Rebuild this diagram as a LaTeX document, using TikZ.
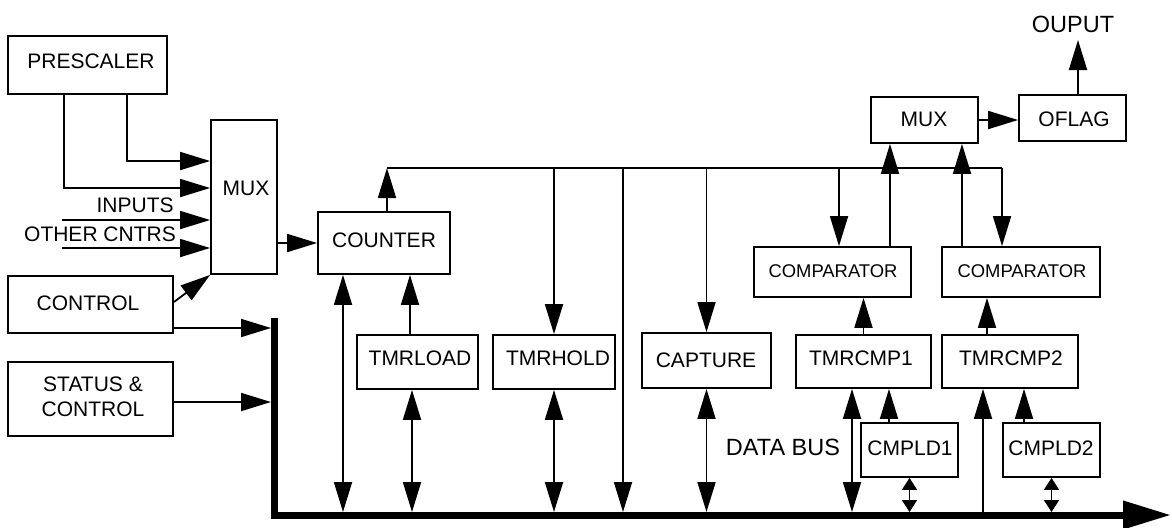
\documentclass[tikz,border=0pt]{standalone}
\usepackage{fontspec}
\setmainfont{Liberation Sans}
\usetikzlibrary{arrows.meta,calc,fit}
\begin{document}
\begin{tikzpicture}[x=0.5pt,y=-0.5pt,
  blk/.style={draw, line width=0.9pt, inner sep=0pt},
  lbl/.style={inner sep=0pt, font=\fontsize{10.5}{12.5}\selectfont},
  lblS/.style={inner sep=0pt, font=\fontsize{9.2}{11}\selectfont},
  lblL/.style={inner sep=0pt, font=\fontsize{11.75}{14}\selectfont},
  wire/.style={line width=0.9pt},
  arr/.style={wire, -{Triangle[length=15pt,width=9pt]}},
  darr/.style={wire, {Triangle[length=15pt,width=9pt]}-{Triangle[length=15pt,width=9pt]}},
  sdarr/.style={wire, {Triangle[length=6pt,width=7.5pt]}-{Triangle[length=6pt,width=7.5pt]}},
  busline/.style={line width=3.5pt, line join=miter, -{Triangle[length=24pt,width=13.5pt]}}
]
\useasboundingbox (0,0) rectangle (1172,527);

% boxes
\node[blk, fit={(8,36)(167,94)}] (pre) {};
\node[blk, fit={(211,120)(277,274)}] (muxl) {};
\node[blk, fit={(8,276)(173,333)}] (ctrl) {};
\node[blk, fit={(8,362)(173,436)}] (stat) {};
\node[blk, fit={(318,212)(450,274)}] (cnt) {};
\node[blk, fit={(357,335)(478,389)}] (tld) {};
\node[blk, fit={(493,335)(615,389)}] (thd) {};
\node[blk, fit={(642,333)(771,388)}] (cap) {};
\node[blk, fit={(754,247)(911,297)}] (cmp1) {};
\node[blk, fit={(942,247)(1100,297)}] (cmp2) {};
\node[blk, fit={(871,97)(978,143)}] (muxr) {};
\node[blk, fit={(1019,95)(1126,141)}] (ofl) {};
\node[blk, fit={(796,335)(931,388)}] (tc1) {};
\node[blk, fit={(942,335)(1078,388)}] (tc2) {};
\node[blk, fit={(861,423)(958,477)}] (cl1) {};
\node[blk, fit={(1003,423)(1100,477)}] (cl2) {};

% texts
\node[lbl] (tPre) at (91,61) {PRESCALER};
\node[lbl] (tMuxL) at (246,188) {MUX};
\node[lbl, anchor=east] (tIn) at (174,205.5) {INPUTS};
\node[lbl] (tOth) at (100,234.5) {OTHER CNTRS};
\node[lbl] (tCtrl) at (88,303) {CONTROL};
\node[lbl, align=center] (tStat) at (93,397) {STATUS \&\\CONTROL};
\node[lbl] (tCnt) at (384,240.5) {COUNTER};
\node[lbl] (tTld) at (420,358) {TMRLOAD};
\node[lbl] (tThd) at (558,358) {TMRHOLD};
\node[lbl] (tCap) at (706,360) {CAPTURE};
\node[lblS] (tCmp1) at (833,271) {COMPARATOR};
\node[lblS] (tCmp2) at (1022,271) {COMPARATOR};
\node[lbl] (tMuxR) at (924,119) {MUX};
\node[lbl] (tOfl) at (1074,119) {OFLAG};
\node[lblL] (tOut) at (1073,24) {OUPUT};
\node[lbl] (tTc1) at (861,358) {TMRCMP1};
\node[lbl] (tTc2) at (1011,358) {TMRCMP2};
\node[lbl] (tCl1) at (910,448) {CMPLD1};
\node[lbl] (tCl2) at (1051,448) {CMPLD2};
\node[lblL] (tBus) at (783,447) {DATA BUS};

% data bus
\coordinate (busTop) at (274.5,318);
\coordinate (busCorner) at (274.5,515);
\coordinate (busEnd) at (1171,515);
\draw[busline] (busTop) -- (busCorner) -- (busEnd);
\coordinate (busL) at (271,0);
\coordinate (busH) at (0,512);

% left side
\draw[arr] ($(pre.south)+(39.5,0)$) |- ($(muxl.west)+(0,-36)$);
\draw[arr] ($(pre.south)+(-23.5,0)$) |- ($(muxl.west)+(0,-9)$);
\coordinate (inA) at (62,220);
\coordinate (inB) at (62,248);
\draw[arr] (inA) -- (inA -| muxl.west);
\draw[arr] (inB) -- (inB -| muxl.west);
\draw[arr] ($(ctrl.east)+(0,-2.5)$) -- (muxl.south west);
\draw[arr] ($(ctrl.east)+(0,23.5)$) coordinate (c1) -- (c1 -| busL);
\draw[arr] ($(stat.east)+(0,3)$) coordinate (c2) -- (c2 -| busL);
\draw[arr] (muxl.east |- cnt.west) -- (cnt.west);

% top line
\coordinate (tl) at (387,168);
\coordinate (tr) at (1002,168);
\draw[wire] (tl) -- (tr);
\draw[arr] (cnt.north -| tl) -- (tl);
\draw[darr] ($(cnt.south)+(-41,0)$) coordinate (c3) -- (c3 |- busH);
\draw[arr] ($(tld.north)+(-7.5,0)$) coordinate (c4) -- (c4 |- cnt.south);
\draw[darr] ($(tld.south)+(-5.5,0)$) coordinate (c5) -- (c5 |- busH);
\draw[arr] (thd.north |- tl) -- (thd.north);
\draw[darr] (thd.south) -- (thd.south |- busH);
\coordinate (v1) at (623,168);
\draw[arr] (v1) -- (v1 |- busH);
\draw[arr] (cap.north |- tl) -- (cap.north);
\draw[darr] (cap.south) -- (cap.south |- busH);

% right side
\path ($(cmp1.north)+(6.5,0)$) coordinate (c6);
\draw[arr] (c6 |- tl) -- (c6);
\draw[arr] ($(cmp1.north)+(57.5,0)$) coordinate (c7) -- (c7 |- muxr.south);
\draw[arr] ($(cmp2.north)+(-59,0)$) coordinate (c8) -- (c8 |- muxr.south);
\draw[arr] (tr) -- (tr |- cmp2.north);
\draw[arr] (muxr.east) -- (muxr.east -| ofl.west);
\coordinate (outTip) at (1078,40);
\draw[arr] (outTip |- ofl.north) -- (outTip);
\draw[arr] (tc1.north) -- (tc1.north |- cmp1.south);
\draw[arr] ($(tc2.north)+(-23,0)$) coordinate (c9) -- (c9 |- cmp2.south);
\draw[arr] ($(cl1.north)+(-20.5,0)$) coordinate (c10) -- (c10 |- tc1.south);
\draw[arr] ($(cl2.north)+(-27.5,0)$) coordinate (c11) -- (c11 |- tc2.south);
\draw[darr] ($(tc1.south)+(-11.5,0)$) coordinate (c12) -- (c12 |- busH);
\path ($(tc2.south)+(-27,0)$) coordinate (c13);
\draw[arr] (c13 |- busH) -- (c13);
\draw[sdarr] (cl1.south) -- (cl1.south |- busH);
\draw[sdarr] (cl2.south) -- (cl2.south |- busH);
\end{tikzpicture}
\end{document}
